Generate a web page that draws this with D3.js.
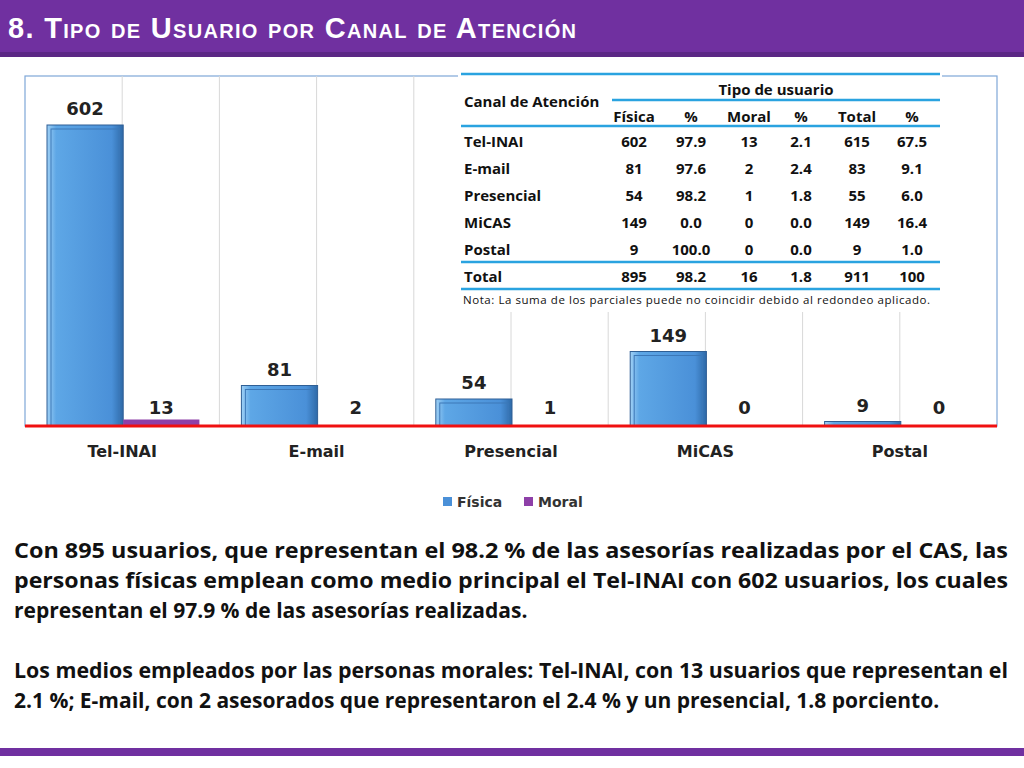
<!DOCTYPE html>
<html><head><meta charset="utf-8">
<script src="https://cdn.jsdelivr.net/npm/d3@7/dist/d3.min.js"></script>
<style>body{margin:0;background:#fff}svg{display:block;font-family:"Open Sans",sans-serif}</style>
</head><body><svg id="c" width="1024" height="768"></svg>
<script>
const categories=["Tel-INAI","E-mail","Presencial","MiCAS","Postal"];
const fisica=[602,81,54,149,9];
const moral=[13,2,1,0,0];
const series=["Física","Moral"];
const tableHead=["Física","%","Moral","%","Total","%"];
const tableRows=[
["Tel-INAI","602","97.9","13","2.1","615","67.5"],
["E-mail","81","97.6","2","2.4","83","9.1"],
["Presencial","54","98.2","1","1.8","55","6.0"],
["MiCAS","149","0.0","0","0.0","149","16.4"],
["Postal","9","100.0","0","0.0","9","1.0"]];
const tableTotal=["Total","895","98.2","16","1.8","911","100"];

const svg=d3.select("#c");
const defs=svg.append("defs");
const g1=defs.append("linearGradient").attr("id","gb");
[["0%","#9fd0f5"],["12%","#5ea7e6"],["85%","#4a90d8"],["100%","#2e6aa8"]].forEach(s=>g1.append("stop").attr("offset",s[0]).attr("stop-color",s[1]));

svg.append("rect").attr("width",1024).attr("height",52).attr("fill","#7030a0");
svg.append("rect").attr("y",52).attr("width",1024).attr("height",5).attr("fill","#5b2785");
svg.append("text").attr("x",8).attr("y",38).attr("fill","#fff").attr("font-weight","bold").attr("font-family","Liberation Sans, Arial").attr("font-size",29)
 .style("font-variant","small-caps").attr("textLength",568).text("8. Tipo de Usuario por Canal de Atención");
svg.append("rect").attr("y",748).attr("width",1024).attr("height",8).attr("fill","#7030a0");

const L=25,R=997,T=76,B=426;
const x=d3.scaleBand().domain(categories).range([L,R]);
const xs=d3.scaleBand().domain(series).range([22,x.bandwidth()-20]);
const y=d3.scaleLinear().domain([0,700]).range([B,T]);

svg.append("rect").attr("x",L).attr("y",T).attr("width",R-L).attr("height",B-T).attr("fill","none").attr("stroke","#7fa7d8").attr("stroke-width",1.2);
categories.forEach(c=>{
  [0,0.5].forEach(f=>{if(c===categories[0]&&f===0)return;
   const xx=x(c)+f*x.bandwidth();
   svg.append("line").attr("x1",xx).attr("x2",xx).attr("y1",T).attr("y2",B).attr("stroke","#d8d8d8");});
});

const gb=svg.append("g");
categories.forEach((c,i)=>{
  const vals=[fisica[i],moral[i]];
  vals.forEach((v,j)=>{
    const bx=x(c)+xs(series[j]), bw=xs.bandwidth(), by=y(v), bh=B-y(v);
    if(j===0){
      gb.append("rect").attr("x",bx).attr("y",by).attr("width",bw).attr("height",bh).attr("fill","url(#gb)").attr("stroke","#2f5f95").attr("stroke-width",1);
      if(bh>6)gb.append("rect").attr("x",bx+4).attr("y",by+4).attr("width",bw-8).attr("height",bh-4).attr("fill","none").attr("stroke","#3c78b8").attr("stroke-width",1);
    } else if(v>0){
      gb.append("rect").attr("x",bx).attr("y",by).attr("width",bw).attr("height",bh).attr("fill","#8e3fa8");
    }
    gb.append("text").attr("x",bx+bw/2).attr("y",j===0?by-10:B-12).attr("text-anchor","middle").attr("font-weight","bold").attr("font-size",18).attr("fill","#222")
      .attr("font-family","Verdana, DejaVu Sans").text(v);
  });
});
svg.append("line").attr("x1",L).attr("x2",R).attr("y1",B).attr("y2",B).attr("stroke","#f01010").attr("stroke-width",3);
svg.append("g").selectAll("text").data(categories).join("text").attr("x",d=>x(d)+x.bandwidth()/2).attr("y",457).attr("text-anchor","middle")
 .attr("font-weight","bold").attr("font-size",16).attr("font-family","Verdana, DejaVu Sans").attr("fill","#222").text(d=>d);

const lg=svg.append("g").attr("font-family","Verdana, DejaVu Sans").attr("font-weight","bold").attr("font-size",14).attr("fill","#333");
[["Física","#4a90d8",443],["Moral","#8e3fa8",524]].forEach(d=>{
 lg.append("rect").attr("x",d[2]).attr("y",497).attr("width",9).attr("height",9).attr("fill",d[1]);
 lg.append("text").attr("x",d[2]+14).attr("y",507).text(d[0]);});

svg.append("rect").attr("x",458).attr("y",72).attr("width",484).attr("height",240).attr("fill","#fff");
const tg=svg.append("g").attr("font-family","Open Sans").attr("font-size",15).attr("fill","#111");
const blue="#2aa3e0";
const cols=[634,691,749,801,857,912];
const rowY=[141,168,195,222,249];
[[461,74],[612,100],[461,126],[461,262],[461,289]].forEach(l=>tg.append("line").attr("x1",l[0]).attr("x2",940).attr("y1",l[1]).attr("y2",l[1]).attr("stroke",blue).attr("stroke-width",2.5));
tg.append("text").attr("x",464).attr("y",107).attr("font-weight","bold").text("Canal de Atención");
tg.append("text").attr("x",776).attr("y",95).attr("text-anchor","middle").attr("font-weight","bold").text("Tipo de usuario");
tableHead.forEach((h,i)=>tg.append("text").attr("x",cols[i]).attr("y",122).attr("text-anchor","middle").attr("font-weight","bold").text(h));
tableRows.concat([tableTotal]).forEach((r,ri)=>{
 const yy=ri<5?rowY[ri]+6:282;
 tg.append("text").attr("x",464).attr("y",yy).attr("font-weight","bold").text(r[0]);
 r.slice(1).forEach((v,i)=>tg.append("text").attr("x",cols[i]).attr("y",yy).attr("text-anchor","middle").attr("font-weight","bold").text(v));
});
tg.append("text").attr("x",463).attr("y",304).attr("font-size",11.5).attr("textLength",467).text("Nota: La suma de los parciales puede no coincidir debido al redondeo aplicado.");

const para=[
 ["Con 895 usuarios, que representan el 98.2 % de las asesorías realizadas por el CAS, las",true],
 ["personas físicas emplean como medio principal el Tel-INAI con 602 usuarios, los cuales",true],
 ["representan el 97.9 % de las asesorías realizadas.",false],
 ["",false],
 ["Los medios empleados por las personas morales: Tel-INAI, con 13 usuarios que representan el",true],
 ["2.1 %; E-mail, con 2 asesorados que representaron el 2.4 % y un presencial, 1.8 porciento.",false]];
const pg=svg.append("g").attr("font-family","Open Sans").attr("font-weight","bold").attr("font-size",21).attr("fill","#111");
para.forEach((p,i)=>{ if(!p[0])return;
 const t=pg.append("text").attr("x",14).attr("y",558+i*30).text(p[0]);
 if(p[1])t.attr("textLength",994).attr("lengthAdjust","spacingAndGlyphs");});
</script></body></html>
